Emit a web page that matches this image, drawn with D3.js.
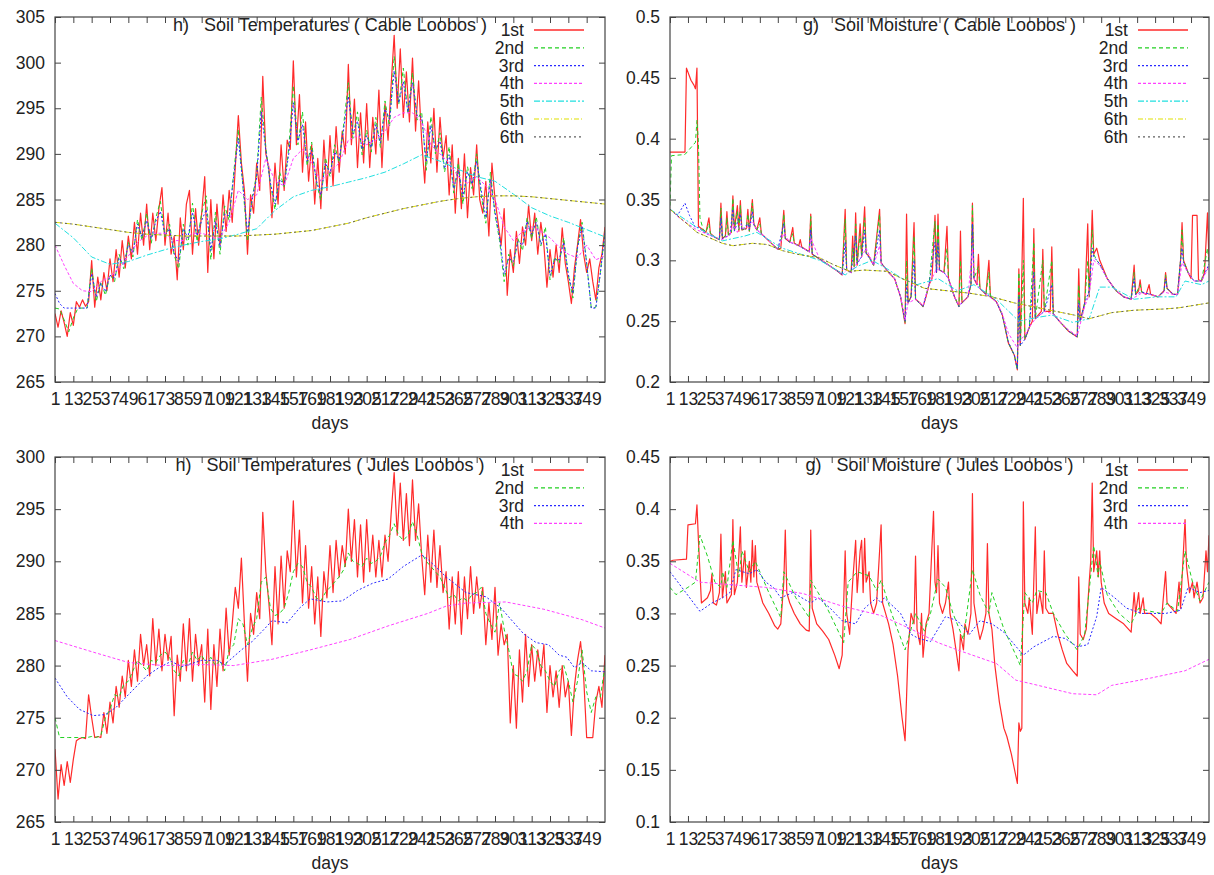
<!DOCTYPE html>
<html>
<head>
<meta charset="utf-8">
<script src="https://cdn.jsdelivr.net/npm/d3@7"></script>
<style>
  body { margin: 0; background: #fff; }
  text { font-family: "Liberation Sans", Arial, Helvetica, sans-serif; fill: #222; }
</style>
</head>
<body>
<div class="chart"></div>
<script>

// ---- tick labels / legend ----
var dayTicks = [1, 13, 25, 37, 49, 61, 73, 85, 97, 109, 121, 133, 145, 157, 169, 181, 193, 205, 217, 229, 241, 253, 265, 277, 289, 301, 313, 325, 337, 349];
var layerNames = ["1st", "2nd", "3rd", "4th", "5th", "6th", "6th"];
var cableTempTicks = [265, 270, 275, 280, 285, 290, 295, 300, 305];
var julesTempTicks = [265, 270, 275, 280, 285, 290, 295, 300];
var cableMoistTicks = [0.2, 0.25, 0.3, 0.35, 0.4, 0.45, 0.5];
var julesMoistTicks = [0.1, 0.15, 0.2, 0.25, 0.3, 0.35, 0.4, 0.45];

// ---- Cable soil temperature ----
// 1st layer: one value every 2 days
var cableTemp1 = [
  272.5,271.0,272.8,271.5,270.0,272.6,271.2,273.8,273.2,274.0,
  273.3,273.8,278.3,273.2,276.5,274.0,277.0,275.0,278.5,276.0,
  279.5,276.5,280.5,277.5,281.0,278.5,282.5,279.0,283.5,280.0,
  284.5,279.5,283.5,280.5,284.0,286.3,280.0,283.5,279.0,281.0,
  276.2,283.0,279.5,284.5,286.0,279.0,284.0,280.0,283.5,287.5,
  277.0,285.0,278.5,284.5,280.0,285.5,281.5,286.0,282.5,288.5,
  294.2,289.0,286.0,279.0,285.5,283.5,289.0,286.0,298.5,290.0,
  288.5,283.0,289.0,284.5,291.0,286.0,291.5,290.5,300.2,291.0,
  296.5,288.0,293.5,287.0,291.0,284.5,289.5,284.0,291.5,286.0,
  292.0,286.5,293.0,288.0,292.5,290.0,299.8,291.0,296.0,288.5,
  294.5,289.0,295.5,288.5,294.0,290.0,297.0,288.5,295.5,291.5,
  297.5,303.0,295.0,301.5,294.0,299.0,293.5,300.5,292.5,298.0,
  291.5,286.8,293.5,289.0,295.0,288.0,294.0,289.5,292.0,285.5,
  291.0,283.5,289.5,284.0,290.0,283.0,288.5,285.5,291.0,285.0,
  283.5,287.0,281.0,289.0,285.0,282.5,280.0,284.0,274.5,279.5,
  277.0,281.5,278.0,282.0,280.0,284.4,280.5,283.5,279.0,282.5,
  280.0,275.4,279.5,276.5,280.0,277.0,281.9,278.0,276.0,273.6,
  277.5,280.0,282.8,279.0,277.0,278.5,276.0,274.0,277.5,279.0,
  282.0];
// 2nd and 3rd layers: one value every 3 days
var cableTemp2 = [
  273.1,273.0,271.8,270.5,272.0,273.1,273.1,273.1,277.5,273.8,
  276.0,274.5,276.8,276.0,279.0,277.4,280.3,278.7,282.8,280.5,
  283.5,280.2,283.0,284.8,280.9,282.3,278.9,277.4,282.3,280.0,
  284.6,280.4,283.5,285.4,278.4,283.6,279.0,284.3,282.7,288.0,
  292.7,286.4,280.4,285.2,287.7,296.2,290.7,286.7,283.9,288.0,
  286.4,290.6,297.5,291.0,294.6,288.7,291.3,286.9,284.9,289.6,
  287.5,291.0,289.0,293.3,297.8,291.7,294.6,289.9,292.6,290.2,
  294.0,290.7,295.8,293.0,300.7,295.4,299.4,294.4,298.9,293.7,
  294.6,288.2,294.1,290.0,292.3,288.0,290.8,285.7,289.0,284.5,
  288.6,286.2,290.0,285.4,282.4,288.0,283.4,280.5,276.0,279.0,
  277.7,280.7,279.4,283.0,280.7,283.1,279.9,282.0,276.2,278.7,
  278.0,280.8,276.7,274.2,279.8,282.5,278.0,273.1,273.2,277.0,
  281.6];
var cableTemp3 = [
  274.7,273.6,273.1,273.1,273.1,273.1,273.1,273.1,276.9,274.3,
  275.8,274.9,276.7,276.4,278.6,277.8,280.0,279.2,282.3,280.9,
  282.7,280.7,282.6,283.7,281.1,281.8,279.1,278.2,281.8,280.8,
  283.6,281.0,282.7,283.9,279.4,282.6,279.8,283.4,283.2,287.6,
  291.7,286.6,281.4,284.9,287.4,294.6,290.4,286.8,284.5,287.2,
  286.6,290.0,295.6,291.4,293.2,289.2,290.4,287.1,285.5,289.0,
  287.9,290.2,289.4,292.8,296.3,292.2,293.6,290.5,292.0,290.7,
  293.2,291.2,294.9,293.8,299.1,295.6,297.9,294.6,297.8,294.2,
  294.0,289.1,293.1,290.4,291.4,288.4,289.9,286.2,288.2,285.3,
  288.0,286.7,289.2,286.0,283.0,287.2,283.6,280.9,276.8,278.6,
  278.2,280.4,280.0,282.6,281.2,282.5,280.1,281.2,276.7,278.4,
  278.4,280.3,276.8,274.7,279.7,282.1,278.0,273.1,273.1,277.0,
  281.4];
// 4th layer: every 6 days
var cableTemp4 = [
  280.0,277.8,275.8,275.0,274.9,276.0,276.5,277.5,278.8,280.3,
  281.0,281.3,281.3,280.5,280.5,281.3,281.3,281.0,280.8,282.5,
  286.0,285.0,285.5,289.5,287.0,286.5,289.5,290.5,289.0,287.0,
  288.0,289.0,291.5,292.0,291.0,291.5,292.5,294.0,294.5,294.5,
  293.5,291.0,290.0,289.0,287.5,286.8,287.5,286.5,285.0,282.0,
  280.5,281.5,282.0,281.5,280.8,279.8,279.0,278.6,280.0,278.4,
  278.8];
// 5th and 6th layers: every 12 days
var cableTemp5 = [
  282.4,280.8,278.7,277.9,278.2,278.9,279.5,280.0,280.4,280.7,
  281.2,281.8,283.8,285.3,286.0,286.4,286.9,287.4,288.0,288.9,
  289.9,289.2,288.3,287.5,287.0,285.6,284.1,283.2,282.5,281.7,
  280.9];
var cableTemp6 = [
  282.5,282.3,282.0,281.7,281.4,281.2,281.1,281.0,281.0,281.0,
  281.0,281.1,281.2,281.4,281.6,282.0,282.4,283.0,283.5,284.0,
  284.4,284.8,285.1,285.3,285.4,285.4,285.3,285.1,284.9,284.7,
  284.5];

// ---- Cable soil moisture, [day index, value] ----
var cableMoist1 = [[0,.389],[10,.389],[11,.458],[14,.448],[16,.444],[17,.441],[18,.458],[19,.328],[24,.323],[26,.335],[27,.322],[30,.319],[33,.317],[34,.347],[35,.318],[37,.32],[38,.34],[39,.321],[41,.323],[42,.353],[43,.325],[45,.345],[46,.324],[47,.349],[48,.325],[51,.326],[52,.342],[53,.324],[55,.35],[56,.33],[58,.325],[60,.335],[61,.322],[66,.316],[72,.309],[74,.31],[75,.325],[76,.341],[77,.318],[80,.315],[82,.327],[83,.314],[86,.312],[87,.317],[88,.311],[93,.307],[94,.338],[95,.305],[100,.301],[106,.296],[112,.291],[115,.288],[117,.342],[118,.292],[121,.29],[122,.32],[123,.295],[124,.339],[125,.296],[127,.33],[128,.303],[130,.344],[131,.306],[133,.303],[136,.296],[140,.342],[141,.298],[146,.29],[150,.285],[154,.27],[157,.248],[158,.338],[159,.265],[161,.27],[163,.331],[164,.268],[167,.265],[169,.262],[171,.27],[173,.28],[175,.285],[177,.337],[178,.29],[179,.338],[180,.292],[183,.29],[185,.328],[186,.285],[190,.27],[193,.262],[194,.324],[195,.265],[199,.27],[201,.28],[202,.347],[203,.285],[205,.28],[206,.305],[207,.277],[211,.272],[213,.3],[214,.27],[218,.266],[222,.255],[226,.232],[230,.222],[232,.21],[233,.293],[234,.23],[236,.351],[237,.235],[240,.245],[242,.25],[243,.326],[244,.252],[248,.258],[249,.309],[250,.258],[254,.258],[255,.311],[256,.256],[260,.25],[266,.242],[272,.237],[273,.293],[274,.25],[277,.265],[279,.33],[280,.27],[281,.3],[282,.341],[283,.305],[285,.31],[287,.3],[292,.285],[298,.275],[303,.27],[308,.268],[310,.296],[311,.272],[313,.275],[314,.284],[315,.274],[318,.272],[320,.28],[321,.272],[326,.27],[330,.275],[331,.29],[332,.277],[336,.272],[339,.272],[341,.3],[342,.331],[343,.3],[346,.29],[348,.285],[349,.337],[352,.337],[353,.284],[355,.283],[357,.29],[359,.339],[360,.3]];
var cableMoist2 = [[0,.345],[1,.386],[10,.387],[17,.397],[18,.415],[19,.397],[20,.335],[22,.326],[24,.323],[26,.33],[27,.322],[30,.319],[33,.317],[34,.343],[35,.318],[37,.32],[38,.335],[39,.321],[41,.323],[42,.351],[43,.325],[45,.34],[46,.324],[47,.345],[48,.325],[51,.326],[52,.338],[53,.324],[55,.347],[56,.33],[58,.325],[60,.33],[61,.322],[66,.316],[72,.309],[75,.32],[76,.338],[77,.318],[80,.315],[82,.322],[83,.314],[86,.312],[93,.307],[94,.336],[95,.305],[100,.301],[106,.296],[112,.291],[115,.288],[117,.334],[118,.292],[121,.29],[122,.31],[123,.295],[124,.33],[125,.297],[127,.322],[128,.303],[130,.335],[131,.306],[133,.303],[136,.296],[140,.338],[141,.298],[146,.29],[150,.285],[154,.27],[157,.249],[158,.3],[159,.265],[161,.27],[163,.32],[164,.268],[169,.262],[173,.28],[177,.332],[178,.29],[179,.33],[180,.292],[183,.29],[185,.31],[186,.285],[190,.27],[193,.262],[194,.3],[195,.265],[199,.27],[201,.28],[202,.345],[203,.285],[206,.295],[207,.277],[211,.272],[213,.29],[214,.27],[218,.266],[222,.255],[226,.232],[230,.222],[232,.21],[233,.29],[234,.23],[236,.3],[237,.235],[240,.245],[243,.315],[244,.252],[249,.3],[250,.258],[255,.3],[256,.256],[260,.25],[266,.242],[272,.237],[273,.28],[274,.25],[277,.265],[279,.3],[280,.27],[282,.325],[283,.305],[285,.3],[287,.297],[292,.285],[298,.275],[303,.27],[308,.268],[310,.29],[311,.272],[314,.28],[315,.274],[321,.272],[326,.27],[330,.275],[331,.288],[332,.277],[336,.272],[339,.272],[341,.3],[342,.325],[343,.3],[346,.29],[350,.283],[355,.283],[359,.31],[360,.298]];
var cableMoist3 = [[0,.342],[5,.337],[10,.347],[13,.337],[17,.327],[19,.327],[24,.322],[30,.319],[33,.317],[34,.335],[35,.318],[40,.321],[42,.342],[43,.324],[47,.338],[48,.325],[52,.33],[53,.325],[55,.34],[56,.329],[58,.325],[61,.322],[66,.316],[72,.309],[76,.33],[77,.318],[80,.315],[86,.312],[93,.307],[94,.325],[95,.305],[100,.301],[106,.296],[112,.291],[115,.288],[117,.315],[118,.292],[121,.29],[124,.32],[125,.297],[128,.303],[130,.325],[131,.306],[136,.296],[140,.325],[141,.298],[146,.29],[150,.285],[154,.27],[157,.25],[158,.28],[159,.265],[161,.27],[163,.3],[164,.268],[169,.262],[173,.28],[177,.315],[178,.29],[179,.315],[180,.292],[183,.29],[186,.285],[190,.27],[193,.262],[195,.265],[199,.27],[201,.28],[202,.33],[203,.285],[207,.277],[211,.272],[214,.27],[218,.266],[222,.255],[226,.233],[230,.222],[232,.211],[233,.27],[234,.23],[237,.235],[240,.245],[243,.29],[244,.252],[250,.258],[255,.28],[256,.256],[260,.25],[266,.242],[272,.237],[273,.265],[274,.25],[277,.265],[280,.275],[282,.31],[283,.303],[285,.3],[287,.297],[292,.285],[298,.275],[303,.27],[308,.268],[310,.285],[311,.272],[315,.274],[321,.272],[326,.27],[330,.275],[331,.285],[332,.277],[336,.272],[339,.272],[341,.3],[342,.31],[343,.298],[346,.29],[350,.283],[355,.283],[360,.297]];
var cableMoist4 = [[0,.342],[6,.335],[12,.33],[18,.325],[24,.322],[30,.319],[35,.317],[40,.321],[42,.33],[45,.323],[47,.33],[50,.325],[55,.332],[58,.325],[61,.322],[66,.316],[72,.309],[76,.322],[80,.315],[86,.312],[93,.307],[94,.318],[100,.301],[106,.296],[112,.291],[115,.288],[118,.292],[121,.29],[125,.298],[128,.303],[131,.31],[136,.296],[140,.312],[141,.298],[146,.29],[150,.285],[154,.27],[157,.251],[159,.265],[164,.268],[169,.263],[173,.28],[178,.293],[183,.29],[186,.285],[190,.27],[193,.263],[199,.27],[202,.31],[203,.285],[207,.277],[211,.272],[218,.266],[222,.256],[226,.24],[230,.232],[232,.228],[234,.235],[237,.238],[240,.245],[244,.252],[250,.258],[256,.256],[260,.25],[266,.243],[272,.238],[277,.262],[280,.272],[283,.3],[287,.296],[292,.285],[298,.275],[303,.27],[308,.268],[315,.273],[321,.272],[326,.27],[330,.274],[336,.272],[339,.272],[342,.298],[346,.29],[350,.283],[355,.283],[360,.295]];
var cableMoist5 = [[0,.342],[18,.327],[35,.316],[50,.32],[58,.323],[75,.31],[100,.3],[117,.288],[125,.295],[135,.3],[145,.293],[155,.285],[165,.28],[179,.285],[192,.275],[203,.28],[218,.268],[233,.25],[245,.253],[255,.255],[269,.249],[280,.252],[287,.278],[295,.278],[310,.268],[325,.27],[338,.27],[344,.283],[355,.28],[360,.283]];
var cableMoist6 = [[0,.342],[18,.323],[35,.314],[42,.312],[55,.314],[65,.313],[75,.308],[85,.305],[100,.302],[110,.296],[120,.291],[130,.292],[145,.291],[155,.285],[170,.277],[185,.275],[200,.273],[215,.27],[230,.265],[250,.26],[270,.255],[280,.252],[295,.257],[310,.259],[330,.26],[340,.261],[360,.265]];

// ---- Jules soil temperature ----
// 1st layer: every 2 days
var julesTemp1 = [
  272.0,267.2,270.5,268.5,270.8,268.8,271.0,272.8,273.0,273.1,
  273.0,277.2,275.0,273.1,273.2,273.1,275.5,273.5,276.5,274.5,
  278.0,276.0,279.0,277.0,280.5,278.0,281.5,278.5,283.0,280.0,
  282.0,279.0,284.5,280.0,283.5,279.5,283.0,280.5,282.8,275.2,
  281.0,278.5,284.0,279.5,284.5,278.5,283.0,280.0,282.0,276.5,
  283.5,275.8,282.0,278.0,283.5,279.5,285.5,281.0,284.0,287.5,
  285.5,290.3,284.0,278.5,285.0,283.0,287.0,284.5,294.7,289.0,
  286.0,282.0,289.5,284.0,290.5,285.5,291.0,289.0,295.8,288.5,
  293.0,286.0,291.5,285.5,289.5,284.0,288.5,282.8,289.0,286.5,
  291.5,287.0,292.0,288.5,291.5,289.5,295.0,290.0,294.0,288.5,
  293.5,288.0,294.0,289.0,292.5,288.5,292.0,288.5,292.5,290.0,
  294.5,298.5,292.5,297.5,292.0,296.5,291.5,297.8,292.0,295.5,
  290.5,286.8,292.5,288.0,293.0,287.5,291.5,287.0,289.0,283.5,
  288.5,284.0,289.0,283.0,288.5,284.5,289.5,285.0,288.5,285.5,
  287.5,282.0,286.0,282.5,287.5,281.0,284.0,282.0,283.0,274.5,
  280.0,274.0,281.5,276.5,283.0,278.0,282.0,278.5,281.5,279.0,
  282.0,275.5,280.0,277.0,279.5,276.0,280.0,277.0,278.5,273.3,
  278.0,280.5,282.3,279.0,273.1,273.1,273.1,276.5,278.0,276.0,
  281.0];
// 2nd layer: every 3 days
var julesTemp2 = [
  275.0,273.1,273.1,273.1,273.1,273.1,273.1,273.1,273.2,273.1,
  273.3,275.0,275.8,277.2,277.0,278.2,278.5,279.5,280.5,280.0,
  279.5,280.5,280.3,281.0,281.3,280.8,279.5,279.0,280.5,280.0,
  281.3,280.5,281.0,280.2,280.8,280.0,280.5,279.5,281.5,282.0,
  284.5,284.0,282.0,283.5,284.5,288.0,288.5,285.5,284.8,285.0,
  285.5,287.0,289.0,289.8,289.5,288.0,287.5,286.5,286.2,287.0,
  287.5,288.0,288.5,289.2,290.8,290.0,289.8,289.5,290.3,289.8,
  290.0,290.5,291.8,292.5,293.6,292.5,292.0,292.5,293.8,292.5,
  290.8,290.0,289.5,289.0,288.5,287.5,286.5,286.8,286.2,286.5,
  286.2,286.8,287.0,287.5,285.0,284.0,283.2,286.0,283.5,281.5,
  279.2,279.0,278.5,279.5,282.0,281.5,280.0,279.5,278.5,278.0,
  279.5,280.0,278.5,276.5,278.5,281.5,277.5,275.5,277.0,277.0,
  280.0];
var julesTemp3 = [[0,278.8],[8,277.0],[16,275.8],[25,275.2],[33,275.3],[40,276.0],[48,277.2],[60,279.0],[68,279.8],[76,280.4],[83,279.9],[96,280.5],[106,280.5],[111,280.1],[122,281.5],[129,282.3],[137,283.5],[142,284.3],[152,284.1],[160,285.5],[167,286.4],[178,286.1],[188,286.2],[198,287.2],[208,287.9],[218,288.3],[228,289.5],[240,290.6],[244,290.2],[256,288.5],[269,287.0],[282,286.6],[292,285.5],[307,283.0],[315,282.2],[323,282.0],[330,281.0],[335,280.8],[340,279.8],[345,280.3],[351,279.5],[360,279.4]];
var julesTemp4 = [[0,282.4],[27,281.2],[48,280.3],[71,280.0],[96,280.1],[117,280.0],[142,280.6],[167,281.5],[193,282.5],[218,283.8],[244,285.0],[256,285.7],[269,286.0],[295,286.1],[320,285.4],[345,284.4],[360,283.6]];

// ---- Jules soil moisture ----
var julesMoist1 = [[0,.35],[2,.351],[11,.352],[12,.385],[17,.386],[18,.404],[19,.37],[21,.31],[25,.315],[27,.322],[28,.338],[29,.31],[31,.308],[33,.32],[34,.376],[35,.315],[37,.34],[38,.31],[41,.318],[42,.39],[43,.318],[45,.33],[47,.383],[48,.33],[50,.36],[51,.325],[53,.35],[54,.33],[55,.37],[56,.335],[57,.365],[58,.33],[62,.31],[66,.3],[70,.288],[72,.285],[74,.29],[76,.33],[77,.38],[78,.32],[80,.31],[83,.3],[87,.29],[91,.284],[93,.283],[94,.38],[95,.305],[98,.29],[102,.283],[106,.275],[110,.26],[113,.247],[115,.26],[117,.36],[118,.3],[120,.28],[122,.33],[124,.37],[125,.32],[127,.36],[128,.37],[129,.32],[130,.372],[131,.33],[133,.34],[134,.31],[136,.3],[138,.31],[141,.385],[142,.31],[144,.3],[146,.29],[149,.27],[152,.24],[155,.2],[157,.178],[158,.22],[159,.265],[161,.3],[163,.29],[164,.355],[165,.285],[167,.27],[168,.3],[169,.258],[171,.29],[173,.3],[176,.398],[177,.33],[178,.32],[179,.365],[180,.31],[182,.3],[184,.31],[186,.33],[187,.3],[189,.285],[191,.265],[193,.245],[194,.28],[196,.265],[197,.29],[199,.28],[201,.3],[202,.415],[203,.31],[205,.29],[207,.275],[209,.285],[211,.3],[212,.367],[213,.3],[215,.285],[217,.25],[220,.215],[223,.19],[225,.182],[228,.165],[232,.137],[233,.195],[234,.187],[235,.19],[236,.407],[237,.31],[239,.3],[240,.315],[242,.28],[244,.383],[245,.3],[247,.32],[249,.3],[250,.36],[251,.305],[253,.3],[256,.3],[259,.28],[262,.265],[265,.252],[269,.245],[272,.24],[273,.335],[274,.28],[276,.275],[278,.285],[280,.33],[281,.35],[282,.425],[283,.34],[285,.36],[286,.335],[287,.36],[288,.33],[290,.31],[293,.3],[298,.295],[303,.29],[308,.282],[310,.32],[311,.3],[313,.32],[314,.3],[316,.315],[317,.3],[321,.3],[325,.295],[328,.29],[331,.34],[332,.31],[335,.305],[338,.3],[340,.33],[341,.305],[344,.39],[345,.345],[347,.32],[349,.33],[350,.315],[352,.33],[354,.31],[356,.315],[358,.36],[359,.34],[360,.375]];
var julesMoist2 = [[0,.325],[4,.318],[12,.325],[17,.33],[20,.375],[25,.355],[30,.33],[34,.325],[35,.34],[38,.325],[42,.37],[46,.335],[48,.36],[53,.34],[57,.35],[66,.32],[74,.296],[76,.34],[84,.315],[93,.296],[94,.332],[105,.305],[116,.272],[119,.33],[125,.34],[133,.336],[138,.322],[141,.332],[148,.3],[157,.265],[164,.3],[170,.283],[174,.3],[179,.333],[184,.325],[189,.3],[196,.275],[202,.342],[207,.318],[213,.3],[215,.32],[223,.285],[231,.26],[234,.25],[237,.32],[242,.31],[245,.322],[251,.32],[256,.3],[264,.28],[272,.265],[277,.28],[283,.365],[286,.335],[287,.35],[292,.318],[300,.3],[308,.29],[313,.305],[321,.302],[328,.3],[332,.31],[339,.302],[344,.36],[349,.33],[354,.312],[360,.33]];
var julesMoist3 = [[0,.34],[20,.302],[28,.31],[35,.315],[40,.32],[44,.342],[53,.338],[58,.342],[64,.33],[69,.325],[74,.315],[82,.32],[94,.31],[99,.315],[107,.305],[115,.293],[124,.29],[130,.305],[138,.315],[141,.31],[143,.315],[154,.3],[161,.28],[166,.276],[174,.273],[184,.297],[192,.293],[200,.28],[207,.293],[215,.29],[223,.282],[236,.26],[243,.268],[256,.278],[264,.276],[272,.268],[279,.27],[285,.297],[288,.325],[297,.315],[305,.305],[315,.3],[331,.3],[341,.303],[346,.325],[354,.32],[360,.322]];
var julesMoist4 = [[0,.348],[20,.33],[45,.327],[64,.325],[89,.319],[115,.307],[141,.298],[161,.285],[179,.272],[192,.265],[218,.252],[231,.236],[243,.232],[269,.223],[285,.222],[295,.231],[321,.238],[344,.245],[360,.256]];

// ---- drawing ----
var lineStyles = [
  { color: "#ff2a2a", dash: null, width: 1.2 },
  { color: "#22d022", dash: "4,3", width: 1 },
  { color: "#2a2aff", dash: "2,2", width: 1 },
  { color: "#ff40ff", dash: "3,2", width: 1 },
  { color: "#20e0e0", dash: "6,2,2,2", width: 1 },
  { color: "#e0e000", dash: "5,2,1,2", width: 1 },
  { color: "#606060", dash: "2,3", width: 1 }
];

function stepped(vals, step) {
  return vals.map(function (v, i) { return [i * step, v]; });
}

var svgWidth = 1214;
var svgHeight = 875;

var svg = d3.select(".chart")
  .append("svg")
  .attr("width", svgWidth)
  .attr("height", svgHeight);

svg.append("rect").attr("width", svgWidth).attr("height", svgHeight).attr("fill", "#fff");

var panels = [
  { box: { left: 55, right: 605, top: 17, bottom: 382 }, yDomain: [265, 305], yTicks: cableTempTicks,
    title: "h)   Soil Temperatures ( Cable Loobos )",
    series: [stepped(cableTemp1, 2), stepped(cableTemp2, 3), stepped(cableTemp3, 3), stepped(cableTemp4, 6),
             stepped(cableTemp5, 12), stepped(cableTemp6, 12), stepped(cableTemp6, 12)] },
  { box: { left: 670, right: 1209, top: 17, bottom: 382 }, yDomain: [0.2, 0.5], yTicks: cableMoistTicks,
    title: "g)   Soil Moisture ( Cable Loobos )",
    series: [cableMoist1, cableMoist2, cableMoist3, cableMoist4, cableMoist5, cableMoist6, cableMoist6] },
  { box: { left: 55, right: 605, top: 457, bottom: 822 }, yDomain: [265, 300], yTicks: julesTempTicks,
    title: "h)   Soil Temperatures ( Jules Loobos )",
    series: [stepped(julesTemp1, 2), stepped(julesTemp2, 3), julesTemp3, julesTemp4] },
  { box: { left: 670, right: 1209, top: 457, bottom: 822 }, yDomain: [0.1, 0.45], yTicks: julesMoistTicks,
    title: "g)   Soil Moisture ( Jules Loobos )",
    series: [julesMoist1, julesMoist2, julesMoist3, julesMoist4] }
];

panels.forEach(drawPanel);

function drawPanel(p, k) {
  var b = p.box;
  var xScale = d3.scaleLinear().domain([0, 360]).range([b.left, b.right]);
  var yScale = d3.scaleLinear().domain(p.yDomain).range([b.bottom, b.top]);
  var tickIdx = dayTicks.map(function (d) { return d - 1; });

  svg.append("clipPath").attr("id", "clip" + k)
    .append("rect")
    .attr("x", b.left).attr("y", b.top)
    .attr("width", b.right - b.left).attr("height", b.bottom - b.top);

  var line = d3.line()
    .x(function (d) { return xScale(d[0]); })
    .y(function (d) { return yScale(d[1]); });

  var lines = svg.append("g").attr("clip-path", "url(#clip" + k + ")");
  p.series.forEach(function (s, i) {
    var st = lineStyles[i];
    lines.append("path")
      .datum(s)
      .attr("d", line)
      .attr("fill", "none")
      .attr("stroke", st.color)
      .attr("stroke-width", st.width)
      .attr("stroke-linejoin", "round")
      .attr("stroke-dasharray", st.dash);
  });

  // axes, ticks pointing inwards on all four sides
  var bottomAxis = d3.axisBottom(xScale).tickValues(tickIdx)
    .tickFormat(function (d, i) { return dayTicks[i]; })
    .tickSize(-6).tickPadding(11);
  var topAxis = d3.axisTop(xScale).tickValues(tickIdx).tickFormat("").tickSize(-6);
  var leftAxis = d3.axisLeft(yScale).tickValues(p.yTicks)
    .tickFormat(function (d) { return String(+d.toFixed(2)); })
    .tickSize(-6).tickPadding(10);
  var rightAxis = d3.axisRight(yScale).tickValues(p.yTicks).tickFormat("").tickSize(-6);

  [
    [bottomAxis, "translate(0," + b.bottom + ")"],
    [topAxis, "translate(0," + b.top + ")"],
    [leftAxis, "translate(" + b.left + ",0)"],
    [rightAxis, "translate(" + b.right + ",0)"]
  ].forEach(function (a) {
    var g = svg.append("g").attr("transform", a[1]).call(a[0]);
    g.select(".domain").remove();
    g.selectAll("line").attr("stroke", "#444");
    g.selectAll("text")
      .attr("font-family", "Liberation Sans, Arial, sans-serif")
      .attr("font-size", "17.5px")
      .attr("fill", "#222");
  });

  svg.append("rect")
    .attr("x", b.left).attr("y", b.top)
    .attr("width", b.right - b.left).attr("height", b.bottom - b.top)
    .attr("fill", "none").attr("stroke", "#444").attr("stroke-width", 1.2);

  var cx = (b.left + b.right) / 2;

  svg.append("text")
    .attr("x", cx).attr("y", b.top + 14)
    .attr("text-anchor", "middle")
    .style("white-space", "pre")
    .attr("font-size", "18px")
    .text(p.title);

  svg.append("text")
    .attr("x", cx).attr("y", b.bottom + 47)
    .attr("text-anchor", "middle")
    .attr("font-size", "17.5px")
    .text("days");

  // legend
  p.series.forEach(function (s, i) {
    var st = lineStyles[i];
    var base = b.top + 19 + i * 17.8;
    svg.append("text")
      .attr("x", b.right - 81).attr("y", base)
      .attr("text-anchor", "end")
      .attr("font-size", "17.5px")
      .text(layerNames[i]);
    svg.append("line")
      .attr("x1", b.right - 71).attr("x2", b.right - 21)
      .attr("y1", base - 6).attr("y2", base - 6)
      .attr("stroke", st.color)
      .attr("stroke-width", i === 0 ? 1.6 : 1.2)
      .attr("stroke-dasharray", st.dash);
  });
}
</script>
</body>
</html>
